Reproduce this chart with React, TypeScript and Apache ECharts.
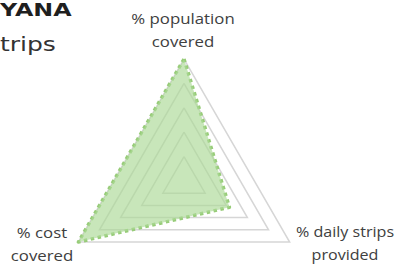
import React, { useEffect, useRef } from "react";
import * as echarts from "echarts";

const indicatorNames = ["% population\ncovered", "% cost\ncovered", "% daily strips\nprovided"];
const indicatorMax = [100, 100, 100];
const seriesValues = [100, 100, 43];
const titleLines = ["YANA", "trips"];

export default function App() {
  const ref = useRef<HTMLDivElement>(null);
  useEffect(() => {
    const chart = echarts.init(ref.current!, null, { renderer: "svg" });
    const labelPos = [
      [183, 30],
      [42, 244],
      [345, 243],
    ];
    const labelScale = [1.2, 1.2, 1.15];
    chart.setOption({
      animation: false,
      backgroundColor: "#ffffff",
      radar: {
        center: [184, 181],
        radius: 122,
        startAngle: 90,
        shape: "polygon",
        splitNumber: 5,
        indicator: indicatorNames.map((n, i) => ({ name: n, max: indicatorMax[i], min: 0 })),
        axisName: { show: false },
        axisLine: { show: false },
        axisTick: { show: false },
        axisLabel: { show: false },
        splitArea: { show: false },
        splitLine: { lineStyle: { color: "#d6d6d6", width: 1.5 } },
      },
      series: [
        {
          type: "radar",
          symbol: "none",
          data: [
            {
              value: seriesValues,
              lineStyle: { type: "dotted", width: 3.5, color: "#97cc78" },
              areaStyle: { color: "rgba(172, 217, 150, 0.94)" },
            },
          ],
        },
      ],
      graphic: [
        {
          type: "text",
          x: 0,
          y: 2,
          scaleX: 1.4,
          style: {
            text: titleLines[0],
            font: "bold 17px 'DejaVu Sans'",
            fill: "#1f1f1f",
            verticalAlign: "top",
          },
        },
        {
          type: "text",
          x: 0,
          y: 34,
          scaleX: 1.25,
          style: {
            text: titleLines[1],
            font: "20px 'DejaVu Sans'",
            fill: "#333333",
            verticalAlign: "top",
          },
        },
        ...indicatorNames.map((n, i) => ({
          type: "text",
          x: labelPos[i][0],
          y: labelPos[i][1],
          scaleX: labelScale[i],
          style: {
            text: n,
            font: "14px 'Open Sans'",
            fill: "#404040",
            align: "center",
            verticalAlign: "middle",
            lineHeight: 23,
          },
        })),
      ],
    });
    return () => chart.dispose();
  }, []);
  return (
    <div
      ref={ref}
      style={{ position: "fixed", left: 0, top: 0, width: 396, height: 270, background: "#fff" }}
    />
  );
}
